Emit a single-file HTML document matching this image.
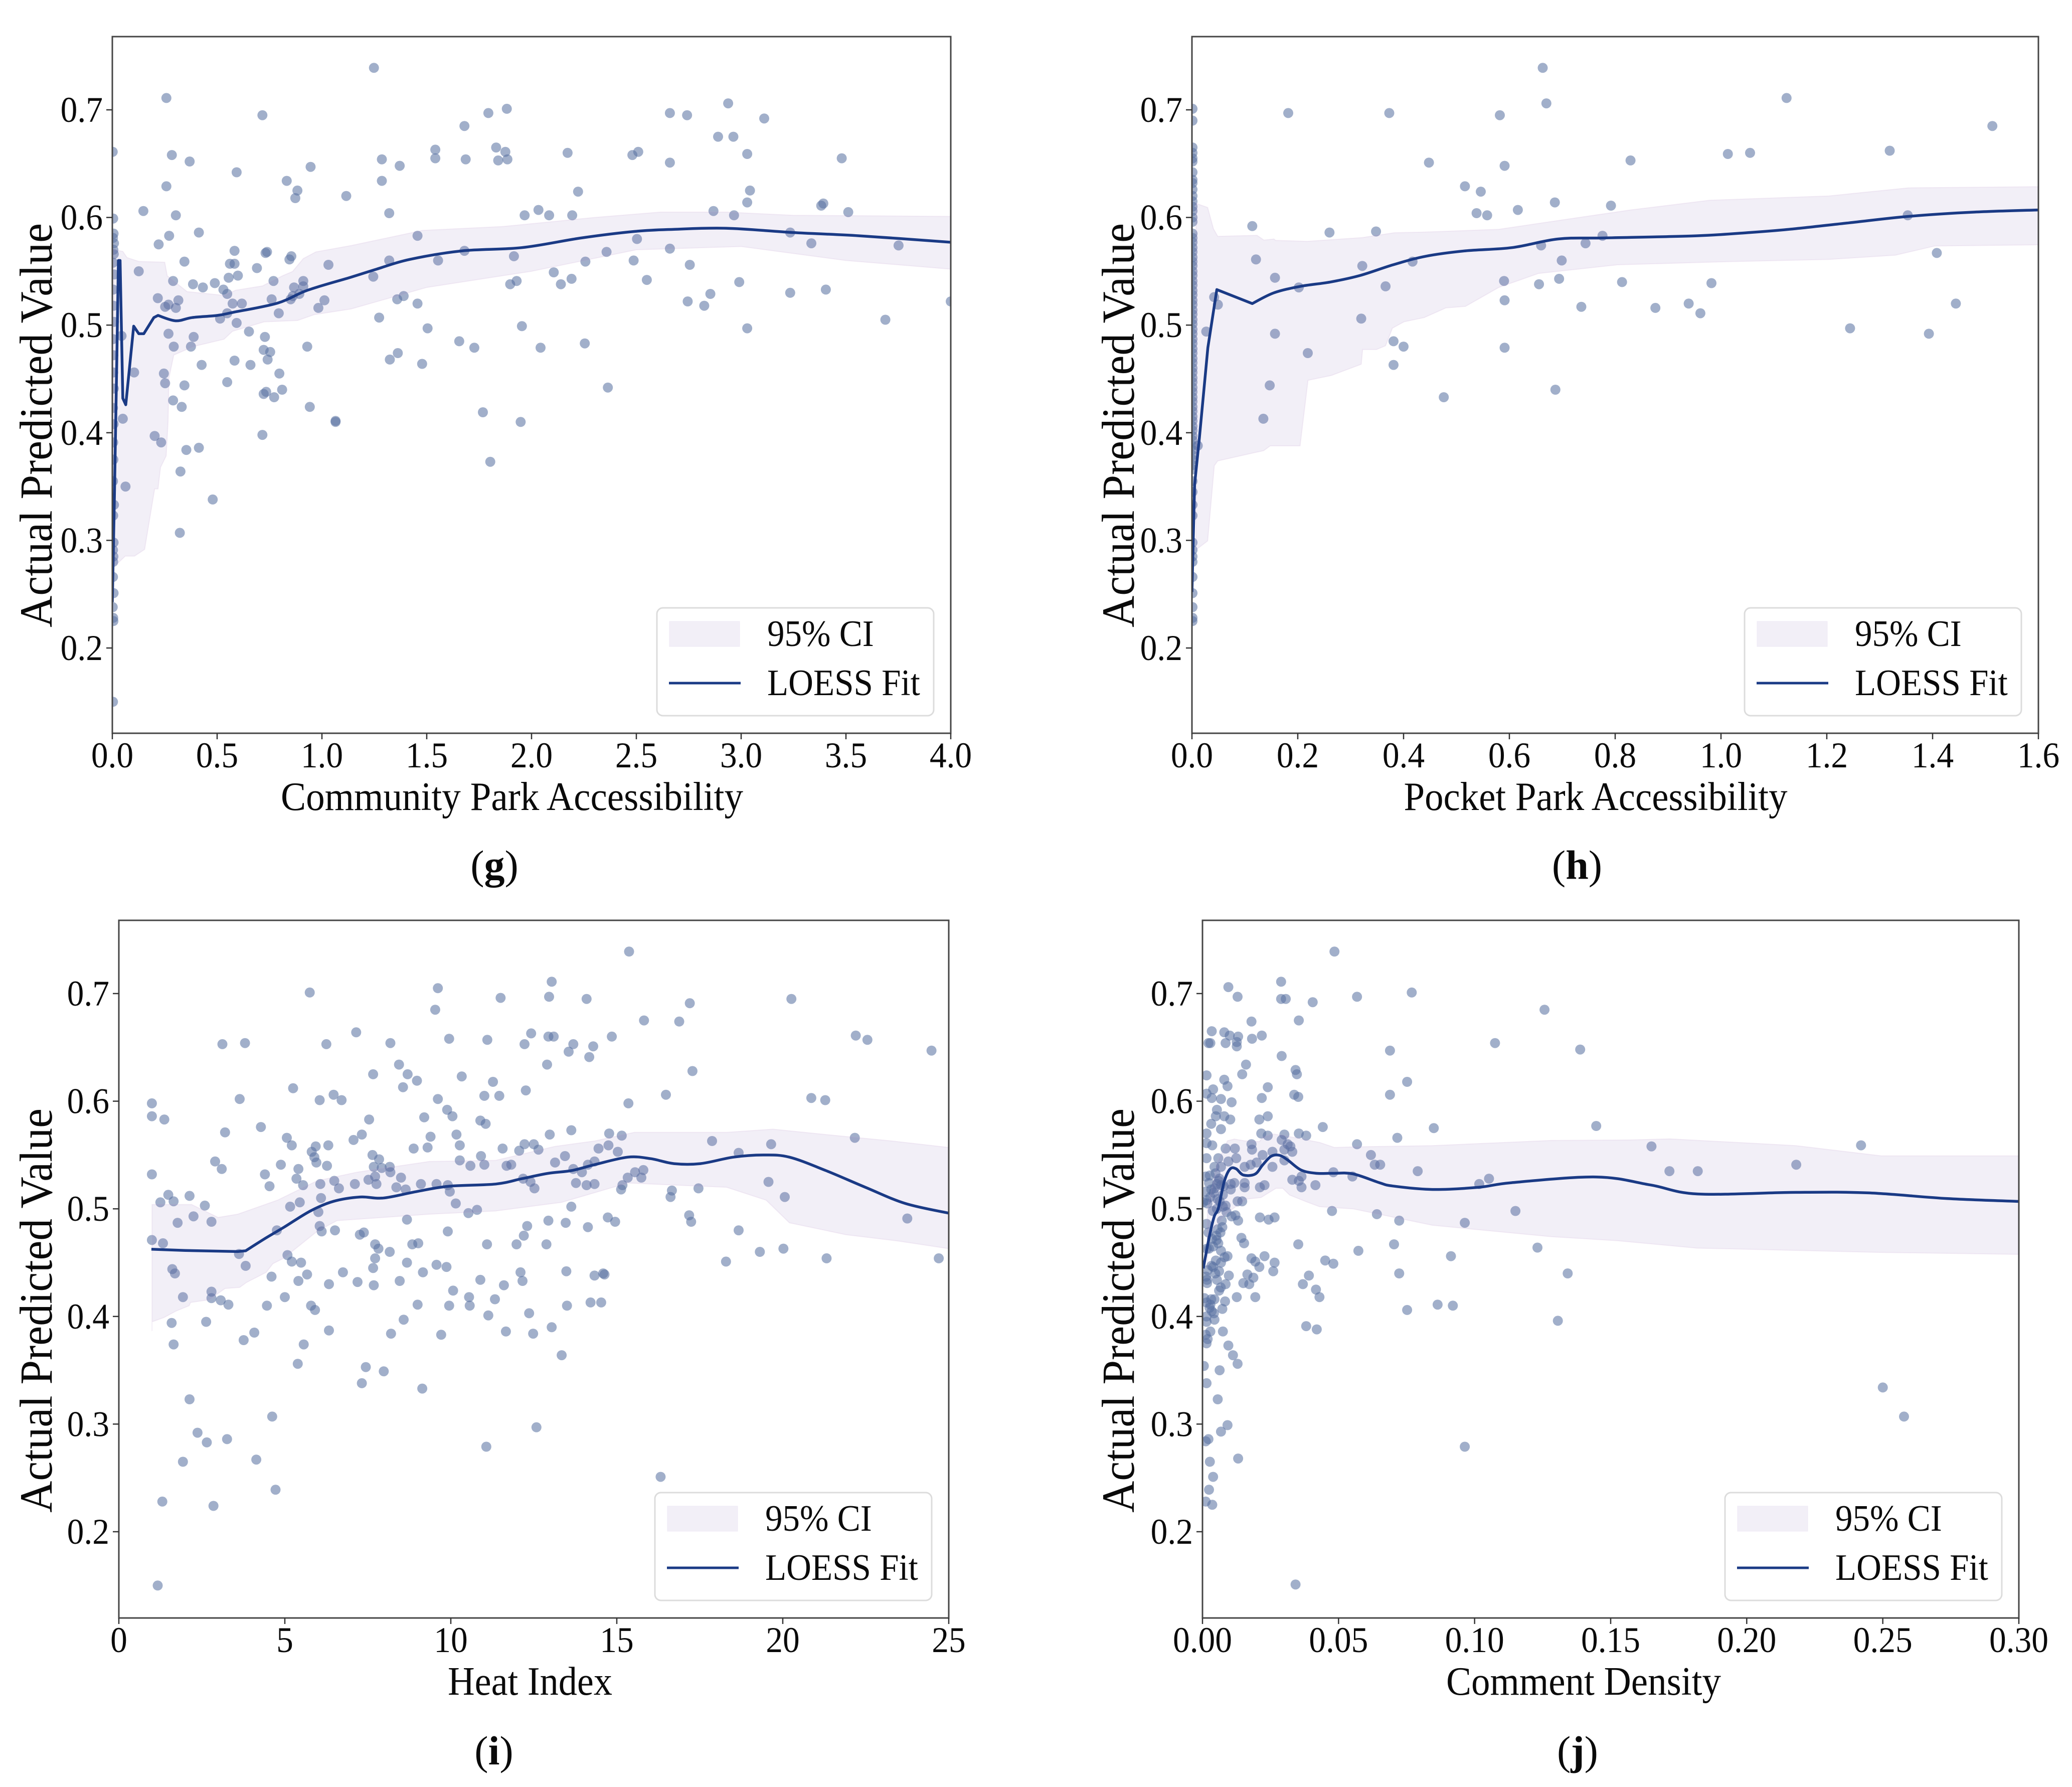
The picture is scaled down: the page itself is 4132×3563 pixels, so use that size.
<!DOCTYPE html>
<html lang="en">
<head>
<meta charset="utf-8">
<title>LOESS fits of actual predicted value</title>
<style>
html,body{margin:0;padding:0;background:#fff;width:4132px;height:3563px;overflow:hidden}
svg{display:block}
text{font-family:"Liberation Serif","DejaVu Serif",serif;fill:#0a0a0a}
</style>
</head>
<body>
<svg id="figure" xmlns="http://www.w3.org/2000/svg" width="4132" height="3563" viewBox="0 0 4132 3563">
<rect x="0" y="0" width="4132" height="3563" fill="#ffffff"/>
</svg>
<script>
const yTicks = [0.2,0.3,0.4,0.5,0.6,0.7];
const yTickLabels = ['0.2','0.3','0.4','0.5','0.6','0.7'];

const gXTicks = [0,0.5,1,1.5,2,2.5,3,3.5,4];
const gXTickLabels = ['0.0','0.5','1.0','1.5','2.0','2.5','3.0','3.5','4.0'];
const gPointX = [1.248,.258,.716,1.794,1.882,1.68,2.66,2.742,2.938,2.89,2.963,3.11,.284,.369,.593,1.286,1.371,1.541,1.541,1.686,1.831,1.841,1.875,1.885,2.172,2.481,2.509,2.66,3.029,3.48,.946,.832,.883,.873,1.286,1.116,.258,3.042,3.029,2.222,.148,.303,1.321,1.967,2.033,2.084,2.194,2.868,2.966,3.382,3.392,3.511,.413,.271,1.456,3.234,2.503,.221,3.335,3.751,.583,.738,.731,1.68,2.358,2.66,.854,.845,1.916,.344,.561,.583,.69,1.031,1.321,1.554,2.257,2.487,2.755,.126,.555,.599,.29,.769,.385,.432,.489,1.245,1.898,1.929,2.106,2.14,2.191,2.55,2.991,3.404,.53,.548,.867,.911,.911,.892,.861,.851,1.39,1.359,.217,.315,.268,.252,.303,.574,.618,.76,1.012,.983,1.456,2.853,2.745,2.824,3.234,.548,.514,.593,.794,1.273,1.504,1.954,3.029,3.688,4.0,.044,.268,.388,.652,.728,.293,.375,.93,1.362,1.655,1.727,2.043,2.254,.722,.753,1.324,.741,.583,.659,.426,1.478,.246,.104,.797,.252,.548,.344,.81,2.364,.722,.734,.772,.29,.331,.942,1.768,.05,1.065,1.065,1.948,.716,.202,.233,.353,.413,1.803,.325,.063,.479,.322,.002,.004,.006,.003,.008,.005,.007,.003,.009,.004,.006,.008,.003,.005,.004,.007,.003,.006,.004,.005,.003,.008,.004,.006,.003,.005,.004,.003,.006,.002,.004,.005,.003,.006,.004,.002,.005,.003];
const gPointY = [.739,.711,.695,.697,.701,.685,.697,.695,.706,.675,.675,.692,.658,.652,.642,.654,.648,.663,.655,.654,.665,.653,.661,.654,.660,.658,.661,.651,.659,.655,.647,.634,.625,.618,.634,.620,.629,.625,.614,.624,.606,.602,.604,.602,.607,.602,.602,.606,.602,.611,.613,.605,.586,.583,.583,.586,.580,.575,.576,.574,.569,.568,.567,.569,.568,.571,.564,.561,.564,.559,.557,.557,.553,.556,.560,.560,.559,.560,.556,.550,.544,.546,.541,.541,.538,.535,.539,.545,.538,.541,.549,.538,.543,.542,.540,.533,.533,.529,.535,.541,.536,.529,.527,.524,.527,.524,.525,.523,.519,.517,.516,.520,.520,.524,.523,.516,.520,.529,.522,.518,.530,.511,.506,.502,.511,.507,.497,.499,.497,.505,.522,.490,.492,.489,.494,.489,.480,.480,.480,.474,.485,.479,.479,.483,.477,.475,.468,.468,.467,.463,.463,.464,.455,.456,.455,.446,.447,.444,.440,.442,.436,.438,.433,.430,.424,.424,.419,.413,.411,.410,.410,.398,.397,.391,.384,.386,.373,.364,.350,.338,.307,.661,.599,.585,.581,.576,.570,.566,.558,.547,.533,.518,.503,.487,.472,.456,.441,.423,.408,.391,.375,.355,.333,.323,.298,.291,.285,.280,.266,.251,.238,.228,.225,.150];
const gLineX = [0,.01,.022,.029,.037,.05,.064,.102,.126,.15,.198,.218,.302,.381,.501,.58,.788,.931,1.138,1.261,1.418,1.67,1.954,2.238,2.49,2.68,2.93,3.247,3.562,4];
const gLineY = [.2426,.341,.475,.56,.56,.432,.426,.499,.492,.492,.507,.509,.504,.507,.509,.512,.5204,.5324,.5445,.552,.561,.569,.572,.581,.587,.589,.59,.586,.583,.577];
const gUpperX = [.006,.05,.07,.126,.25,.262,.357,.533,.588,.716,.812,.86,.911,.971,1.139,1.48,1.86,2.3,2.616,2.93,3.247,4];
const gUpperY = [.57,.5685,.5627,.5592,.5584,.5458,.5311,.5276,.5324,.5364,.5458,.5498,.5618,.568,.5739,.588,.5915,.6,.605,.605,.602,.601];
const gLowerX = [.006,.022,.062,.106,.154,.202,.218,.23,.257,.266,.27,.293,.389,.533,.573,.724,.884,.963,1.139,1.5,2,2.5,3,3.5,4];
const gLowerY = [.277,.278,.2854,.2854,.2916,.3478,.3478,.3678,.3785,.4107,.4508,.4722,.4802,.4869,.4942,.503,.5043,.5097,.515,.535,.55,.57,.573,.56,.552];

const hXTicks = [0,.2,.4,.6,.8,1,1.2,1.4,1.6];
const hXTickLabels = ['0.0','0.2','0.4','0.6','0.8','1.0','1.2','1.4','1.6'];
const hPointX = [.663,.67,1.124,.373,.182,.582,1.513,.448,.591,.829,1.013,1.055,1.319,.516,.546,.538,.558,.616,.686,.792,1.353,.114,.26,.348,.776,.744,.66,.417,.121,.157,.322,.699,1.408,.59,.694,.813,.982,.656,.366,.202,.042,.049,.591,.736,.876,.939,.961,1.444,.32,.027,.157,1.244,1.393,.381,.4,.591,.219,.381,.147,.687,.476,.135,.011,.001,.001,.001,.001,.001,.001,.001,.001,.001,.001,.001,.001,.001,.001,.001,.001,.001,.001,.001,.001,.001,.001,.001,.001,.001,.001,.001,.001,.001,.001,.001,.001,.001,.001,.001,.001,.001,.001,.001,.001,.001,.001,.001,.001,.001,.001,.001,.001,.001,.001,.001,.001,.001,.001,.001,.001,.001,.001,.001,.001,.001,.001,.001,.001,.001,.001,.001,.001,.001,.001,.001,.001,.001,.001,.001,.001,.001,.001,.001];
const hPointY = [.739,.706,.711,.697,.697,.695,.685,.651,.648,.653,.659,.660,.662,.629,.624,.604,.602,.607,.614,.611,.602,.592,.586,.587,.583,.576,.574,.559,.561,.544,.555,.560,.567,.541,.543,.540,.539,.538,.536,.535,.526,.519,.523,.517,.516,.520,.511,.520,.506,.494,.492,.497,.492,.485,.480,.479,.474,.463,.444,.440,.433,.413,.388,.701,.690,.665,.660,.655,.652,.642,.635,.632,.626,.620,.615,.610,.606,.600,.596,.585,.581,.577,.572,.568,.563,.559,.555,.550,.546,.541,.537,.532,.528,.523,.519,.514,.510,.505,.501,.496,.492,.487,.483,.478,.474,.469,.465,.460,.456,.451,.447,.442,.438,.433,.429,.424,.420,.415,.411,.406,.402,.397,.393,.388,.384,.379,.375,.370,.366,.355,.345,.333,.323,.298,.291,.285,.280,.266,.251,.238,.228,.225,.150];
const hLineX = [0,.005,.014,.03,.047,.114,.155,.205,.261,.317,.38,.442,.517,.605,.692,.78,.954,1.054,1.129,1.242,1.354,1.479,1.6];
const hLineY = [.252,.352,.395,.479,.533,.52,.53,.536,.54,.546,.556,.564,.569,.572,.58,.581,.583,.586,.589,.595,.601,.605,.607];
const hUpperX = [.0076,.0297,.0407,.0487,.123,.136,.155,.158,.218,.322,.382,.439,.58,.704,.829,.979,1.204,1.354,1.6];
const hUpperY = [.6131,.6093,.5894,.5825,.5834,.579,.58,.5787,.5778,.5813,.5858,.5864,.589,.598,.607,.616,.62,.6275,.6286];
const hLowerX = [.0076,.0297,.0423,.0487,.1166,.1355,.148,.2044,.2193,.2635,.32,.3226,.3488,.366,.379,.401,.439,.48,.517,.58,.655,.804,1.017,1.204,1.33,1.404,1.6];
const hLowerY = [.2912,.2995,.3694,.3738,.3813,.3833,.3878,.3878,.4487,.4532,.4636,.4773,.4773,.4808,.4972,.5031,.507,.516,.5174,.535,.548,.556,.559,.561,.565,.5735,.5746];

const iXTicks = [0,5,10,15,20,25];
const iXTickLabels = ['0','5','10','15','20','25'];
const iPointX = [15.37,13.04,9.61,5.75,11.5,12.96,14.09,17.2,20.26,9.53,15.82,16.88,7.15,12.42,22.2,22.55,12.94,13.1,14.85,9.95,11.1,3.12,3.8,6.25,8.18,12.22,13.55,13.69,14.29,24.48,14.17,8.44,12.9,17.28,8.7,7.66,8.98,10.33,11.27,8.56,5.25,12.26,16.48,11.01,11.46,6.47,6.71,6.05,3.64,9.61,.995,20.86,21.28,15.35,.995,1.37,9.89,10.05,9.2,7.54,10.89,11.05,4.28,3.2,13.63,7.32,10.17,9.39,12.98,14.77,15.15,5.06,7.07,17.87,22.17,5.21,5.93,6.31,8.88,9.3,10.27,11.56,12.06,12.22,12.5,12.64,14.45,14.75,15.03,19.65,18.67,5.81,5.89,7.64,7.84,2.9,10.27,10.91,13.44,5.95,4.88,6.27,7.68,8.16,10.59,11.01,11.68,11.82,13.14,14.13,14.33,3.1,5.41,7.92,8.18,13.69,13.95,15.55,15.8,.995,4.4,8.5,5.35,6.49,7.52,7.72,15.33,15.74,7.76,12.18,12.4,13.77,14.33,14.09,4.54,5.55,6.07,7.11,9.1,9.57,9.91,15.17,15.13,8.36,8.64,6.63,9.97,12.52,17.46,16.66,19.57,1.49,2.13,1.25,1.65,2.59,16.62,20.06,6.09,5.45,5.16,10.15,13.63,6.01,10.53,10.79,2.25,1.77,2.79,8.68,12.94,14.73,14.95,17.18,17.24,23.75,12.3,13.46,14.13,4.76,6.05,6.11,6.51,7.38,7.26,9.91,18.67,12.2,.995,1.33,7.72,8.84,9.02,11.09,11.98,12.88,7.82,8.16,20.02,19.31,3.62,5.08,7.72,24.7,21.32,5.21,5.49,3.82,8.68,9.57,9.87,7.66,18.29,1.61,1.69,5.67,6.75,9.16,12.1,13.48,14.59,14.63,14.33,4.6,5.41,7.19,8.46,10.89,12.16,6.33,7.68,11.6,10.07,2.79,1.93,2.79,3.07,5.0,10.55,11.33,3.3,4.46,5.79,9.0,9.95,10.57,13.5,14.21,14.53,5.91,12.36,11.13,8.58,1.59,2.63,13.04,6.33,8.2,9.71,4.08,11.66,12.48,3.76,1.65,5.57,13.34,5.39,7.44,7.32,7.98,9.14,2.13,4.62,12.58,2.37,3.26,2.65,11.07,1.93,4.14,16.32,4.72,1.31,2.85,1.17];
const iPointY = [.739,.711,.705,.701,.696,.697,.695,.691,.695,.685,.675,.674,.664,.663,.661,.657,.66,.66,.66,.658,.657,.653,.654,.653,.654,.653,.646,.653,.651,.647,.641,.634,.634,.628,.625,.625,.619,.623,.618,.613,.612,.61,.606,.605,.605,.606,.601,.601,.602,.602,.598,.603,.601,.598,.586,.583,.592,.586,.585,.583,.582,.579,.576,.571,.573,.569,.569,.567,.569,.57,.568,.566,.564,.563,.566,.559,.558,.559,.556,.557,.559,.556,.554,.56,.56,.555,.556,.559,.553,.56,.552,.553,.548,.55,.546,.544,.545,.549,.549,.543,.541,.54,.539,.539,.54,.541,.54,.541,.543,.541,.544,.537,.537,.538,.534,.537,.534,.534,.536,.532,.532,.529,.528,.526,.527,.53,.529,.529,.523,.528,.525,.524,.523,.522,.521,.522,.523,.523,.523,.523,.522,.522,.518,.52,.518,.519,.516,.519,.519,.517,.525,.513,.512,.506,.507,.503,.511,.511,.51,.506,.502,.505,.502,.497,.496,.499,.493,.487,.488,.49,.489,.492,.488,.494,.488,.491,.484,.487,.483,.48,.484,.479,.48,.478,.476,.479,.48,.475,.471,.468,.467,.467,.468,.467,.467,.467,.463,.46,.463,.46,.458,.457,.454,.454,.454,.451,.45,.447,.45,.448,.446,.445,.451,.444,.44,.439,.441,.441,.441,.442,.44,.439,.438,.437,.433,.432,.433,.434,.433,.43,.429,.429,.424,.423,.418,.417,.415,.418,.418,.416,.411,.41,.41,.411,.41,.41,.41,.413,.413,.406,.403,.401,.397,.394,.395,.39,.387,.384,.383,.385,.386,.384,.378,.374,.374,.364,.356,.353,.338,.349,.333,.323,.307,.297,.292,.286,.283,.279,.265,.267,.251,.239,.228,.224,.150];
const iLineX = [.98,2,3.58,3.82,4.38,4.98,5.77,6.47,7.27,7.96,8.96,9.95,11.35,12.14,12.94,13.63,14.33,15.33,16.02,16.72,17.52,18.51,19.41,20.2,21.3,22.49,23.69,25];
const iLineY = [.4625,.4613,.4603,.461,.472,.483,.498,.507,.511,.51,.516,.521,.523,.528,.533,.5355,.541,.548,.5466,.542,.542,.548,.55,.548,.5355,.52,.505,.496];
const iUpperX = [1,2.19,2.99,3.58,4.78,5.97,7.17,9.36,11.35,13.14,14.33,15.53,18.31,19.7,21.3,23.29,25];
const iUpperY = [.504,.504,.492,.495,.508,.526,.534,.544,.545,.558,.563,.571,.571,.574,.569,.563,.557];
const iLowerX = [1,1,1.36,1.72,2.12,2.16,2.72,3.2,3.64,3.84,4.44,4.64,4.96,5.97,6.57,9.36,11.35,13.34,15.33,18.31,19.5,20.2,21.9,23.5,25];
const iLowerY = [.3865,.395,.399,.405,.41,.413,.4155,.426,.427,.4315,.441,.449,.454,.479,.489,.495,.498,.506,.524,.52,.508,.487,.476,.47,.463];

const jXTicks = [0,.05,.1,.15,.2,.25,.3];
const jXTickLabels = ['0.00','0.05','0.10','0.15','0.20','0.25','0.30'];
const jPointX = [.0485,.0289,.0095,.0769,.0129,.0289,.0306,.0405,.0568,.1257,.018,.0354,.0034,.008,.01,.0131,.0218,.0182,.0022,.0029,.0085,.0126,.0126,.0689,.1075,.1388,.016,.0291,.0342,.0347,.0146,.0015,.008,.0752,.0092,.024,.0039,.0337,.0352,.0015,.0034,.0068,.0107,.0218,.0689,.0053,.0049,.008,.0102,.0209,.024,.0032,.0068,.0442,.085,.1447,.0015,.0216,.024,.0354,.0381,.0301,.0291,.0716,.0568,.0015,.0036,.0085,.018,.0182,.0119,.165,.242,.0313,.0323,.0015,.0058,.0095,.0124,.0221,.0257,.0301,.033,.0619,.0633,.0653,.0791,.1716,.182,.2182,.0044,.0068,.0155,.0177,.0199,.0257,.0301,.0364,.0481,.0551,.033,.0354,.0364,.0415,.0012,.0024,.0117,.0155,.0211,.0228,.0104,.0104,.0155,.0053,.0012,.0032,.0068,.0029,.0063,.0129,.0146,.0075,.0085,.0053,.0002,.0015,.0476,.115,.1017,.1053,.0107,.0121,.0211,.0243,.0265,.0131,.0641,.0723,.0964,.0015,.0056,.0073,.0051,.0143,.0153,.0352,.0704,.0058,.0039,.0068,.0573,.1231,.0092,.018,.0228,.0913,.0451,.0481,.0194,.0209,.0265,.026,.0068,.0039,.0019,.0061,.1342,.0723,.0097,.0165,.0187,.0391,.0017,.0017,.0053,.0085,.015,.0172,.0369,.0417,.0126,.0194,.043,.0083,.0032,.0015,.0029,.0044,.0007,.0073,.0034,.0864,.092,.0752,.0015,.0015,.0044,.1306,.0381,.042,.0075,.0029,.0012,.0019,.0015,.0095,.0112,.0129,.0005,.0063,.0015,.0056,.25,.2578,.0092,.0068,.0022,.0012,.0964,.0027,.0131,.0039,.0024,.0012,.0036,.0342,.0048,.0062,.0078,.0041,.0055,.0088,.0071,.0022,.0035,.0016,.0049,.0067,.0027,.0059,.0044,.0075,.0018,.0038,.0066,.0052,.0024,.0081,.0033,.0047,.0013,.0061,.0026,.0042];
const jPointY = [.739,.711,.706,.701,.697,.695,.695,.692,.697,.685,.674,.675,.665,.664,.661,.66,.661,.658,.654,.654,.654,.655,.651,.647,.654,.648,.634,.642,.629,.625,.625,.624,.62,.618,.614,.613,.611,.606,.604,.607,.603,.602,.599,.603,.606,.592,.586,.586,.583,.583,.586,.579,.574,.576,.575,.577,.57,.57,.568,.57,.568,.569,.564,.566,.56,.561,.559,.556,.56,.555,.556,.558,.559,.56,.558,.547,.547,.544,.547,.55,.553,.555,.553,.55,.541,.541,.535,.535,.535,.541,.539,.539,.539,.541,.543,.539,.545,.53,.534,.53,.527,.526,.52,.522,.53,.524,.524,.524,.52,.522,.523,.518,.52,.523,.516,.518,.522,.511,.507,.507,.507,.502,.503,.5,.506,.508,.498,.498,.523,.528,.493,.494,.492,.49,.492,.489,.495,.489,.487,.486,.481,.483,.475,.473,.468,.467,.467,.468,.465,.461,.461,.464,.456,.454,.456,.456,.452,.449,.451,.446,.45,.442,.45,.446,.443,.442,.44,.44,.438,.439,.436,.438,.434,.431,.434,.43,.431,.43,.43,.425,.418,.418,.418,.414,.416,.413,.411,.416,.417,.407,.405,.411,.41,.406,.4,.395,.397,.396,.391,.388,.386,.386,.383,.379,.375,.373,.364,.356,.354,.35,.338,.323,.334,.307,.299,.293,.286,.284,.279,.265,.268,.251,.239,.228,.225,.151,.533,.528,.521,.515,.509,.497,.489,.478,.472,.463,.452,.427,.531,.526,.519,.513,.505,.498,.478,.471,.463,.455,.447,.44,.437,.424,.408,.403];
const jLineX = [.0003,.0025,.0043,.0058,.008,.0101,.0123,.015,.0193,.0221,.0252,.0283,.0313,.0362,.0418,.0479,.0553,.065,.0699,.0845,.1015,.1136,.1447,.1646,.182,.218,.2447,.2738,.3];
const jLineY = [.4446,.474,.4927,.5004,.5253,.5369,.5373,.5314,.5322,.5407,.5488,.5497,.5454,.5361,.533,.533,.5325,.5243,.5212,.518,.52,.5243,.5296,.5222,.5138,.5153,.5148,.5095,.5069];
const jUpperX = [.0018,.0055,.0092,.0117,.0154,.0209,.0222,.0262,.0319,.043,.0485,.0553,.0845,.1282,.1573,.1718,.218,.2495,.3];
const jUpperY = [.4989,.543,.5632,.5648,.5632,.5624,.5665,.5695,.5671,.5617,.557,.5575,.5587,.5635,.564,.565,.5587,.5492,.5492];
const jLowerX = [.0018,.0021,.008,.016,.0215,.027,.0295,.032,.0381,.043,.0553,.0845,.1282,.1524,.1816,.2495,.3];
const jLowerY = [.445,.4756,.4942,.509,.5105,.519,.519,.5128,.5066,.502,.5,.4847,.4741,.4704,.4635,.4595,.4577];

const SVGNS = 'http://www.w3.org/2000/svg';
const figure = document.getElementById('figure');
const DOT_FILL = 'rgb(88,112,160)';
const LINE_COLOR = '#1a3a85';
const SPINE_COLOR = '#454545';

function mk(parent, tag, attrs, content) {
  const node = document.createElementNS(SVGNS, tag);
  for (const k in attrs) node.setAttribute(k, attrs[k]);
  if (content !== undefined) node.textContent = content;
  parent.appendChild(node);
  return node;
}
function label(parent, x, y, str, size, anchor, rotate, length) {
  const attrs = {
    transform: 'translate(' + x + ',' + y + ')' + (rotate ? ' rotate(' + rotate + ')' : '') + ' scale(1,1.07)',
    'font-size': size,
    'text-anchor': anchor
  };
  if (length) {
    attrs.textLength = length;
    attrs.lengthAdjust = 'spacingAndGlyphs';
  }
  return mk(parent, 'text', attrs, str);
}
function pathOf(xs, ys, sx, sy) {
  return xs.map((v, i) => (i ? 'L' : 'M') + sx(v).toFixed(1) + ' ' + sy(ys[i]).toFixed(1)).join('');
}
function smoothPath(xs, ys, sx, sy, from) {
  const pts = xs.map((v, i) => [sx(v), sy(ys[i])]);
  let d = 'M' + pts[0][0].toFixed(1) + ' ' + pts[0][1].toFixed(1);
  for (let i = 1; i < pts.length; i++) {
    if (i <= from) {
      d += 'L' + pts[i][0].toFixed(1) + ' ' + pts[i][1].toFixed(1);
      continue;
    }
    const a = pts[Math.max(i - 2, from)];
    const b = pts[i - 1];
    const c = pts[i];
    const e = pts[Math.min(i + 1, pts.length - 1)];
    d += 'C' + (b[0] + (c[0] - a[0]) / 6).toFixed(1) + ' ' + (b[1] + (c[1] - a[1]) / 6).toFixed(1) + ' '
      + (c[0] - (e[0] - b[0]) / 6).toFixed(1) + ' ' + (c[1] - (e[1] - b[1]) / 6).toFixed(1) + ' '
      + c[0].toFixed(1) + ' ' + c[1].toFixed(1);
  }
  return d;
}

function drawPanel(p) {
  const g = mk(figure, 'g', {});
  
  
  const w = p.right - p.left;
  const h = p.bottom - p.top;
  const sx = v => p.left + (v - p.xMin) / (p.xMax - p.xMin) * w;
  const sy = v => p.y07 + (0.7 - v) * 2146;

  const clip = mk(g, 'clipPath', { id: 'clip-' + p.id });
  mk(clip, 'rect', { x: p.left, y: p.top, width: w, height: h });
  const plot = mk(g, 'g', { 'clip-path': 'url(#clip-' + p.id + ')' });
  
  

  p.px.forEach((v, i) => {
    const dot = mk(plot, 'circle', { cx: sx(v).toFixed(1), cy: sy(p.py[i]).toFixed(1), r: 10, fill: DOT_FILL, 'fill-opacity': 0.56 });
    
    
  });

  const lowerRev = p.lx.map((v, i) => [v, p.ly[i]]).reverse();
  const bandD = pathOf(p.ux, p.uy, sx, sy) + lowerRev.map(q => 'L' + sx(q[0]).toFixed(1) + ' ' + sy(q[1]).toFixed(1)).join('') + 'Z';
  const band = mk(plot, 'path', { d: bandD, fill: 'rgb(125,95,175)', 'fill-opacity': 0.1, stroke: 'rgb(190,150,200)', 'stroke-opacity': 0.15, 'stroke-width': 2 });
  
  

  const fit = mk(plot, 'path', { d: smoothPath(p.fx, p.fy, sx, sy, p.smoothFrom), fill: 'none', stroke: LINE_COLOR, 'stroke-width': 5.5, 'stroke-linejoin': 'round' });
  
  

  const frame = mk(g, 'rect', { x: p.left, y: p.top, width: w, height: h, fill: 'none', stroke: SPINE_COLOR, 'stroke-width': 3 });
  
  

  yTicks.forEach((v, i) => {
    const yy = sy(v);
    const tick = mk(g, 'line', { x1: p.left - 12, x2: p.left, y1: yy, y2: yy, stroke: '#333', 'stroke-width': 2.5 });
    
    
    const t = label(g, p.left - 19, yy + 24, yTickLabels[i], 67.5, 'end');
    
    
  });
  p.xTicks.forEach((v, i) => {
    const xx = sx(v);
    const tick = mk(g, 'line', { x1: xx, x2: xx, y1: p.bottom, y2: p.bottom + 12, stroke: '#333', 'stroke-width': 2.5 });
    
    
    const t = label(g, xx, p.bottom + 68, p.xLabels[i], 67.5, 'middle');
    
    
  });

  const xt = label(g, p.xTitleX, p.bottom + 153, p.xTitle, 75, 'middle', 0, p.xTitleW);
  
  
  const yt = label(g, p.yTitleX, p.yTitleY, 'Actual Predicted Value', 86.4, 'middle', -90, 806);
  
  

  const cap = mk(g, 'text', { x: p.capX, y: p.capY, 'font-size': 82, 'text-anchor': 'middle' });
  
  
  cap.appendChild(document.createTextNode('('));
  mk(cap, 'tspan', { 'font-weight': 'bold' }, p.id);
  cap.appendChild(document.createTextNode(')'));

  const lx = p.right - 586;
  const ly = p.bottom - 250;
  const legend = mk(g, 'g', {});
  
  
  const box = mk(legend, 'rect', { x: lx, y: ly, width: 552, height: 215, rx: 12, ry: 12, fill: '#fff', 'fill-opacity': 0.9, stroke: '#dcdcdc', 'stroke-width': 3 });
  
  
  const swatch = mk(legend, 'rect', { x: lx + 25, y: ly + 27, width: 140, height: 50, fill: '#f2eff7', stroke: '#efeaf4', 'stroke-width': 1 });
  
  
  const ciText = label(legend, lx + 220, ly + 76, '95% CI', 69, 'start');
  
  
  const swLine = mk(legend, 'line', { x1: lx + 24, x2: lx + 167, y1: ly + 150, y2: ly + 150, stroke: LINE_COLOR, 'stroke-width': 5 });
  
  
  const fitText = label(legend, lx + 220, ly + 174, 'LOESS Fit', 69, 'start');
  
  
}

drawPanel({ id: 'g', left: 224, right: 1896, top: 73, bottom: 1462, y07: 219, xMin: 0, xMax: 4, xTicks: gXTicks, xLabels: gXTickLabels,
  px: gPointX, py: gPointY, fx: gLineX, fy: gLineY, ux: gUpperX, uy: gUpperY, lx: gLowerX, ly: gLowerY, smoothFrom: 11,
  xTitle: 'Community Park Accessibility', xTitleX: 1021, xTitleW: 922, yTitleX: 103, yTitleY: 848, capX: 986, capY: 1752 });
drawPanel({ id: 'h', left: 2377, right: 4065, top: 73, bottom: 1462, y07: 219, xMin: 0, xMax: 1.6, xTicks: hXTicks, xLabels: hXTickLabels,
  px: hPointX, py: hPointY, fx: hLineX, fy: hLineY, ux: hUpperX, uy: hUpperY, lx: hLowerX, ly: hLowerY, smoothFrom: 5,
  xTitle: 'Pocket Park Accessibility', xTitleX: 3182, xTitleW: 765, yTitleX: 2261, yTitleY: 848, capX: 3145, capY: 1752 });
drawPanel({ id: 'i', left: 237, right: 1892, top: 1835, bottom: 3226, y07: 1981, xMin: 0, xMax: 25, xTicks: iXTicks, xLabels: iXTickLabels,
  px: iPointX, py: iPointY, fx: iLineX, fy: iLineY, ux: iUpperX, uy: iUpperY, lx: iLowerX, ly: iLowerY, smoothFrom: 3,
  xTitle: 'Heat Index', xTitleX: 1057, xTitleW: 328, yTitleX: 103, yTitleY: 2613, capX: 985, capY: 3518 });
drawPanel({ id: 'j', left: 2398, right: 4026, top: 1835, bottom: 3226, y07: 1981, xMin: 0, xMax: 0.3, xTicks: jXTicks, xLabels: jXTickLabels,
  px: jPointX, py: jPointY, fx: jLineX, fy: jLineY, ux: jUpperX, uy: jUpperY, lx: jLowerX, ly: jLowerY, smoothFrom: 0,
  xTitle: 'Comment Density', xTitleX: 3158, xTitleW: 548, yTitleX: 2261, yTitleY: 2613, capX: 3146, capY: 3518 });
</script>
</body>
</html>
